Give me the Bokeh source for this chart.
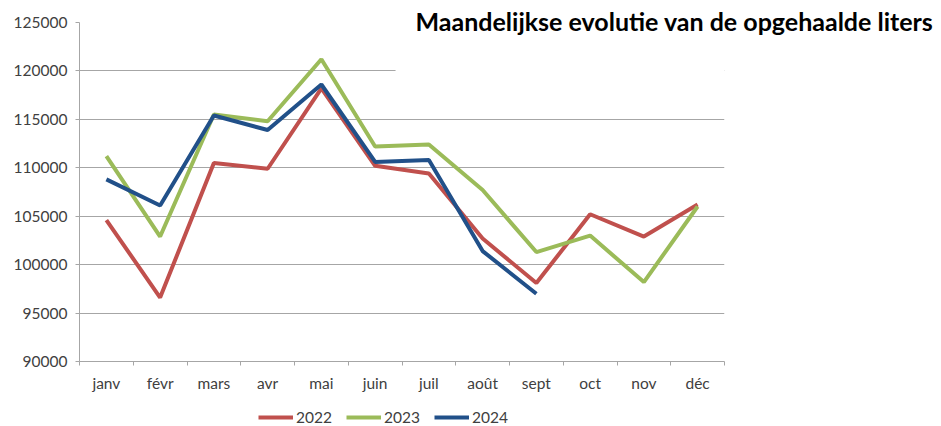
from bokeh.plotting import figure
from bokeh.layouts import column
from bokeh.models import (FixedTicker, NumeralTickFormatter, Legend, LegendItem,
                          BoxAnnotation, Range1d)
from bokeh.embed import file_html
from bokeh.resources import INLINE

months = ["janv", "févr", "mars", "avr", "mai", "juin", "juil", "août", "sept", "oct", "nov", "déc"]
v2022 = [104600, 96600, 110500, 109900, 118200, 110200, 109400, 102700, 98100, 105200, 102900, 106200]
v2023 = [111200, 102900, 115500, 114800, 121200, 112200, 112400, 107700, 101300, 103000, 98200, 106000]
v2024 = [108800, 106100, 115400, 113900, 118600, 110600, 110800, 101400, 97000]
series_names = ["2022", "2023", "2024"]
y_ticks = [90000, 95000, 100000, 105000, 110000, 115000, 120000, 125000]
title_text = "Maandelijkse evolutie van de opgehaalde liters"

FONT = "Lato"
GRID = "#a6a6a6"
TXT = "#404040"
COLORS = ["#C0504D", "#9BBB59", "#215089"]
SERIES = [v2022, v2023, v2024]

p = figure(width=941, height=406, output_backend="svg", toolbar_location=None,
           x_range=Range1d(0, len(months)), y_range=Range1d(y_ticks[0], y_ticks[-1]),
           min_border_left=79, min_border_right=217, min_border_top=22, min_border_bottom=45)
p.outline_line_color = None
p.background_fill_color = "white"

p.title.text = title_text
p.title.align = "left"
p.title.offset = 336
p.title.standoff = -26
p.title.text_font = FONT
p.title.text_font_style = "bold"
p.title.text_font_size = "25px"
p.title.text_color = "black"

centers = [i + 0.5 for i in range(len(months))]
bounds = list(range(len(months) + 1))

# axes
p.xaxis.ticker = FixedTicker(ticks=centers, minor_ticks=bounds)
p.xaxis.major_label_overrides = {c: m for c, m in zip(centers, months)}
p.xaxis.major_tick_line_color = None
p.xaxis.major_tick_out = 0
p.xaxis.major_tick_in = 0
p.xaxis.minor_tick_line_color = GRID
p.xaxis.minor_tick_out = 4
p.xaxis.minor_tick_in = 0
p.xaxis.axis_line_color = GRID
p.xaxis.major_label_standoff = 8
p.xaxis.major_label_text_font = FONT
p.xaxis.major_label_text_font_size = "15.5px"
p.xaxis.major_label_text_color = TXT

p.yaxis.ticker = FixedTicker(ticks=y_ticks)
p.yaxis.formatter = NumeralTickFormatter(format="0")
p.yaxis.minor_tick_line_color = None
p.yaxis.major_tick_line_color = GRID
p.yaxis.major_tick_out = 4
p.yaxis.major_tick_in = 0
p.yaxis.axis_line_color = GRID
p.yaxis.major_label_standoff = 8
p.yaxis.major_label_text_font = FONT
p.yaxis.major_label_text_font_size = "15.5px"
p.yaxis.major_label_text_color = TXT

p.xgrid.grid_line_color = None
p.ygrid.grid_line_color = GRID
p.ygrid.grid_line_width = 1

for vals, col in zip(SERIES, COLORS):
    p.line(centers[:len(vals)], vals, line_color=col, line_width=4)

# white area behind the title that hides the top gridlines
p.add_layout(BoxAnnotation(left=5.88, bottom=117500, fill_color="white", fill_alpha=1,
                           line_color=None, level="underlay"))

# legend strip below the chart (series drawn out of its visible range; only the legend shows)
pl = figure(width=941, height=20, output_backend="svg", toolbar_location=None,
            x_axis_location=None, y_axis_location=None,
            x_range=Range1d(0, len(months)), y_range=Range1d(0, 1),
            min_border_left=0, min_border_right=0, min_border_top=0, min_border_bottom=0)
pl.grid.visible = False
pl.outline_line_color = None
items = []
for name, vals, col in zip(series_names, SERIES, COLORS):
    r = pl.line(centers[:len(vals)], vals, line_color=col, line_width=4)
    items.append(LegendItem(label=name, renderers=[r]))
legend = Legend(items=items, orientation="horizontal", location=(179, 0),
                glyph_width=35, glyph_height=10, label_height=16, label_standoff=3, spacing=14,
                label_text_font=FONT, label_text_font_size="15.5px", label_text_color=TXT,
                border_line_color=None, background_fill_alpha=0, padding=0, margin=0)
pl.add_layout(legend, "center")

open("out.html", "w").write(file_html(column(p, pl, spacing=0), INLINE))
